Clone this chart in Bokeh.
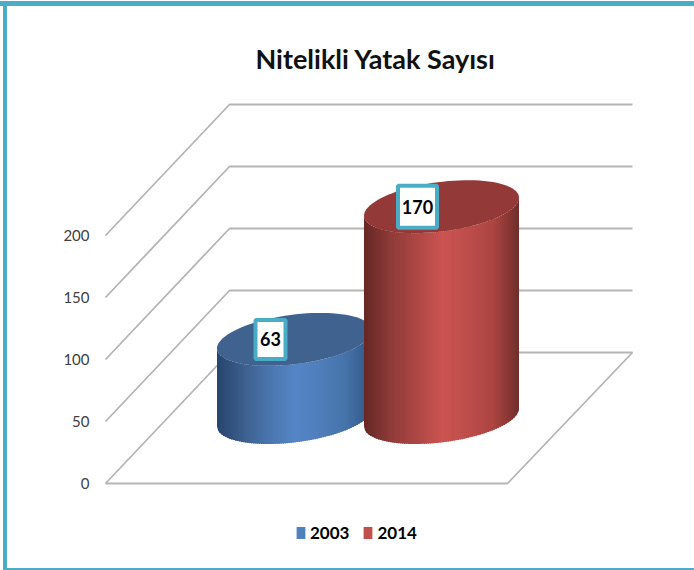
import numpy as np
from bokeh.plotting import figure
from bokeh.models import Range1d, FixedTicker, Legend, LegendItem, Title
from bokeh.core.properties import value
from bokeh.embed import file_html
from bokeh.resources import INLINE

title_text = "Nitelikli Yatak Sayısı"
years = ["2003", "2014"]
beds = [63, 170]
yticks = [0, 50, 100, 150, 200]

FONT = "Lato"
W, H = 694, 570
LEFT, TOP = 100, 88
Y0, K = 483, 1.24           # pixel row of value 0, pixels per unit
TEAL = "#4bacc6"

def v(px):  # pixel distance -> value units
    return px / K

def band(x, y, w, h):
    return f"linear-gradient({TEAL},{TEAL}) {x}px {y}px / {w}px {h}px no-repeat"

p = figure(width=W, height=H, output_backend="svg", toolbar_location=None,
           x_range=Range1d(LEFT, W),
           y_range=Range1d(v(Y0 - H), v(Y0 - TOP)),
           min_border_left=LEFT, min_border_right=0, min_border_top=TOP, min_border_bottom=0,
           background_fill_color=None, border_fill_color=None)
p.styles = {"position": "absolute", "left": "0px", "top": "0px",
            "background": ", ".join([band(0, 1, W, 5), band(3, 1, 4, H), band(3, 568, W, 2)])}
p.outline_line_color = None
p.grid.visible = False
p.xaxis.visible = False
ax = p.yaxis[0]
ax.ticker = FixedTicker(ticks=yticks)
ax.axis_line_color = None
ax.major_tick_line_color = None
ax.minor_tick_line_color = None
ax.major_label_standoff = 5
ax.major_label_text_font = FONT
ax.major_label_text_font_size = "15px"
ax.major_label_text_color = "#404040"

p.add_layout(Title(text=title_text, align="left", offset=155, standoff=27,
                   text_font=FONT, text_font_size="27px", text_font_style="bold",
                   text_color="#111111"), "above")

# walls and floor
FX0, FX1, BX0, BX1 = 105, 507, 229, 632
DEPTH = v(131)
GRID = "#b4b4b4"
for t in yticks:
    p.line([FX0, BX0, BX1], [t, t + DEPTH, t + DEPTH], line_color=GRID, line_width=1.8)
p.line([FX0, FX1, BX1], [0, 0, DEPTH], line_color=GRID, line_width=1.8)

# cylinders
A, B, TILT = 77.5, 24.9, 9.0
CENTERS = [294, 441]
BASE = v(483 - 417)
RAMPS = [
    ["#27456e", "#3c5f8e", "#4a76ae", "#5585c6", "#4e7db9", "#4472a8", "#2f5280"],
    ["#672826", "#8f3b39", "#ad4744", "#cb5451", "#bd4d4a", "#ab4440", "#6d2c2a"],
]
TOPS = ["#3f628f", "#933a38"]
FLAT = ["#4f81bd", "#c0504d"]

def hexrgb(c):
    return np.array([int(c[i:i + 2], 16) for i in (1, 3, 5)], dtype=float)

def ramp(stops, f):
    pos = f * (len(stops) - 1)
    i = min(int(pos), len(stops) - 2)
    c = hexrgb(stops[i]) * (1 - (pos - i)) + hexrgb(stops[i + 1]) * (pos - i)
    return "#%02x%02x%02x" % tuple(int(round(x)) for x in c)

def lower(s):
    return v(TILT * s / A - B * np.sqrt(np.clip(1 - (s / A) ** 2, 0, 1)))

for cx, val, stops, top in zip(CENTERS, beds, RAMPS, TOPS):
    edges = np.arange(-A, A, 2.0)
    xs, ys, cols = [], [], []
    for s in edges:
        s1 = min(s + 3.0, A)
        ss = np.linspace(s, s1, 4)
        lo = BASE + lower(ss)
        hi = BASE + val + lower(ss)
        xs.append(list(cx + ss) + list(cx + ss[::-1]))
        ys.append(list(lo) + list(hi[::-1]))
        cols.append(ramp(stops, (s + A) / (2 * A)))
    p.patches(xs, ys, fill_color=cols, line_color=None)
    t = np.linspace(0, 2 * np.pi, 90)
    p.patch(cx + A * np.cos(t), BASE + val + v(TILT * np.cos(t) + B * np.sin(t)),
            fill_color=top, line_color=None)

# value labels
OFF = -24
for cx, val, w, h, txt in zip(CENTERS, beds, [30, 39], [39, 42], beds):
    x, y = cx + OFF, BASE + val
    p.rect([x], [y], width=w, height=h, width_units="screen", height_units="screen",
           fill_color="white", line_color=TEAL, line_width=4)
    p.text([x], [y], text=[str(txt)], text_align="center", text_baseline="middle",
           text_font=value(FONT), text_font_size="18px", text_font_style="bold", text_color="#000000")

# legend
items = []
for name, c in zip(years, FLAT):
    r = p.quad(left=[0], right=[0], top=[0], bottom=[0], fill_color=c, line_color=None)
    items.append(LegendItem(label=name, renderers=[r]))
leg = Legend(items=items, orientation="horizontal", location=(195, 27),
             glyph_width=11, glyph_height=15, label_standoff=4, spacing=13, margin=0, padding=0,
             border_line_color=None, background_fill_alpha=0,
             label_text_font=FONT, label_text_font_size="17px", label_text_font_style="bold",
             label_text_color="#000000")
p.add_layout(leg, "center")

open("out.html", "w").write(file_html(p, INLINE))
